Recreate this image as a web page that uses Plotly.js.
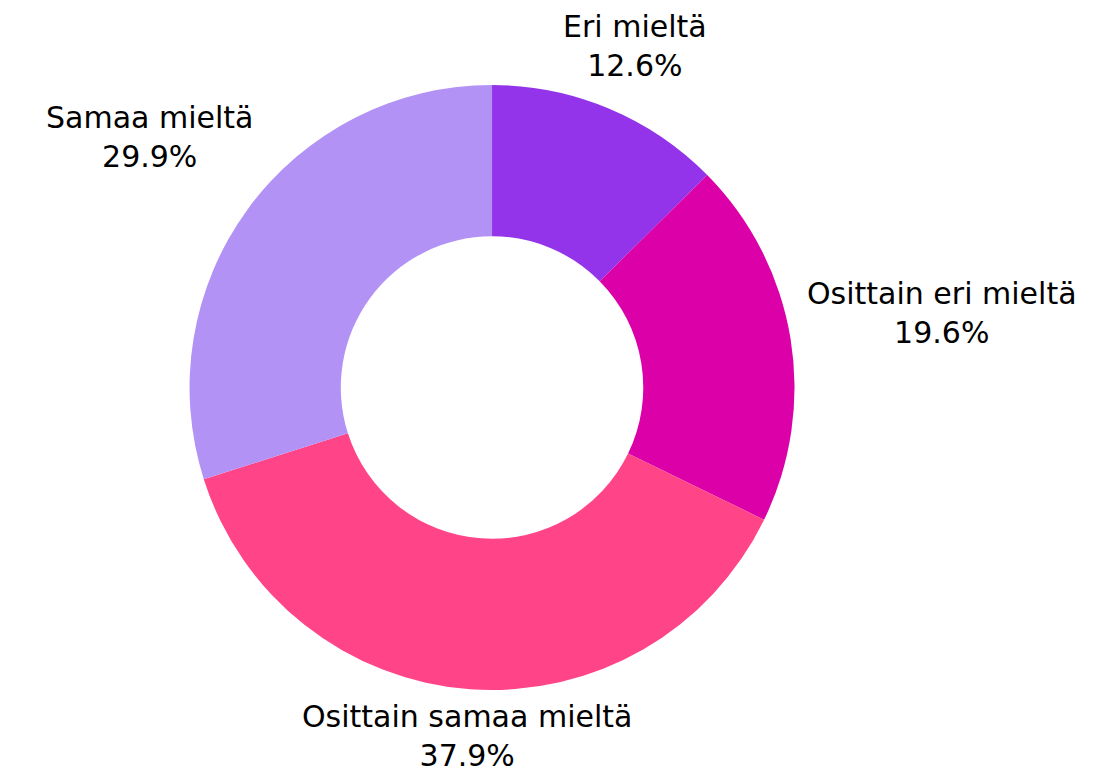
<!DOCTYPE html>
<html>
<head>
<meta charset="utf-8">
<script src="https://cdn.plot.ly/plotly-3.0.1.min.js"></script>
<style>html,body{margin:0;padding:0;background:#fff;}#chart{width:1117px;height:779px;}</style>
</head>
<body>
<div id="chart"></div>
<script>
const labels = ["Eri mieltä", "Osittain eri mieltä", "Osittain samaa mieltä", "Samaa mieltä"];
const values = [12.6, 19.6, 37.9, 29.9];
const colors = ["#9333EA", "#DB00A8", "#FF4488", "#B392F5"];

// label placement (radial distance of each label's centre, in pie radii)
const labelDistance = [1.225, 1.507, 1.156, 1.401];

const W = 1117, H = 779;
const domX = [0.1697, 0.7113], domY = [0.1142, 0.8909];
const FONT = "DejaVu Sans, sans-serif";

const trace = {
  type: "pie",
  labels: labels,
  values: values,
  hole: 0.5,
  sort: false,
  direction: "clockwise",
  rotation: 0,
  marker: {colors: colors, line: {width: 0}},
  textinfo: "none",
  hoverinfo: "label+percent",
  showlegend: false,
  domain: {x: domX, y: domY}
};

// compute outside label positions from slice mid-angles
const total = values.reduce((a, b) => a + b, 0);
const cxPx = (domX[0] + domX[1]) / 2 * W;
const cyPx = (1 - (domY[0] + domY[1]) / 2) * H;
const R = Math.min((domX[1] - domX[0]) * W, (domY[1] - domY[0]) * H) / 2;
let cum = 0;
const annotations = values.map((v, i) => {
  const mid = (cum + v / 2) / total * 2 * Math.PI;
  cum += v;
  const d = labelDistance[i] * R;
  const px = cxPx + d * Math.sin(mid);
  const py = cyPx - d * Math.cos(mid);
  return {
    xref: "paper", yref: "paper",
    x: px / W, y: 1 - py / H,
    xanchor: "center", yanchor: "middle",
    showarrow: false,
    align: "center",
    text: labels[i] + "<br>" + (v / total * 100).toFixed(1) + "%",
    font: {family: FONT, size: 30, color: "#000"}
  };
});

const layout = {
  width: W, height: H,
  margin: {l: 0, r: 0, t: 0, b: 0},
  paper_bgcolor: "#fff",
  showlegend: false,
  font: {family: FONT, size: 30, color: "#000"},
  annotations: annotations
};
Plotly.newPlot("chart", [trace], layout, {displayModeBar: false, staticPlot: true});
</script>
</body>
</html>
